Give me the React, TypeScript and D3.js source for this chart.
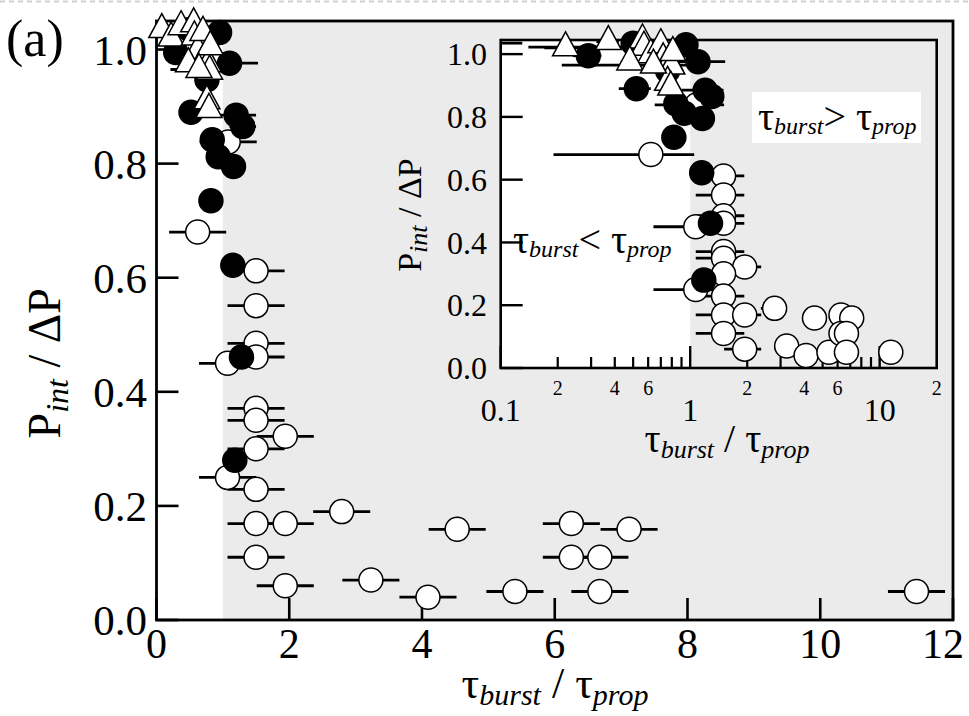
import React from 'react';
import * as d3 from 'd3';

// ---------- data ----------
// open circles
const openX = [0.62, 1.08, 1.5, 1.5, 1.5, 1.5, 1.07, 1.5, 1.5, 1.94, 1.5, 1.07, 1.5, 2.79, 1.5, 1.94, 4.53, 1.5, 3.23, 1.94, 4.09, 5.4, 6.25, 7.12, 6.25, 6.68, 6.68, 11.45];
const openY = [0.68, 0.838, 0.612, 0.551, 0.485, 0.461, 0.45, 0.371, 0.35, 0.322, 0.3, 0.25, 0.229, 0.19, 0.169, 0.169, 0.159, 0.11, 0.07, 0.06, 0.04, 0.05, 0.169, 0.159, 0.11, 0.11, 0.05, 0.05];
const openErr = [0.43, 0.43, 0.43, 0.43, 0.43, 0.43, 0.43, 0.43, 0.43, 0.43, 0.43, 0.43, 0.43, 0.43, 0.43, 0.43, 0.43, 0.43, 0.43, 0.43, 0.43, 0.43, 0.43, 0.43, 0.43, 0.43, 0.43, 0.43];

// filled circles
const filledX = [0.29, 0.5, 0.95, 1.1, 0.76, 0.52, 1.2, 1.3, 0.93, 1.16, 0.84, 0.82, 1.15, 1.28, 1.18];
const filledY = [0.995, 1.035, 1.03, 0.976, 0.947, 0.89, 0.885, 0.865, 0.812, 0.795, 0.842, 0.735, 0.622, 0.461, 0.28];
const filledErr = [0.05, 0.05, 0.1, 0.43, 0.1, 0.1, 0.3, 0.2, 0.1, 0.1, 0.1, 0.1, 0.1, 0.1, 0.1];

// open triangles
const triX = [0.08, 0.22, 0.37, 0.56, 0.57, 0.62, 0.7, 0.72, 0.78, 0.8, 0.81, 0.76, 0.79, 0.48, 0.64];
const triY = [1.035, 1.02, 1.04, 1.045, 1.022, 0.998, 1.03, 0.985, 0.975, 0.962, 1.005, 0.91, 0.895, 0.975, 0.965];
const triErr = [0.05, 0.05, 0.05, 0.05, 0.43, 0.05, 0.05, 0.05, 0.05, 0.05, 0.05, 0.05, 0.05, 0.05, 0.43];

// ticks
const mainXTicks = [0, 2, 4, 6, 8, 10, 12];
const mainYTicks = [0, 0.2, 0.4, 0.6, 0.8, 1.0];
const insetYTicks = [0, 0.2, 0.4, 0.6, 0.8, 1.0];
const insetMajor = [0.1, 1, 10];
const insetMinorLabels = [0.2, 0.4, 0.6, 2, 4, 6, 20];

const FONT = '"Liberation Serif", "Times New Roman", Times, serif';
const GRAY = '#ebebeb';

type Pt = { x: number; y: number; e: number };
const zip = (xs: number[], ys: number[], es: number[]): Pt[] => xs.map((x, i) => ({ x, y: ys[i], e: es[i] }));
const opens = zip(openX, openY, openErr);
const filleds = zip(filledX, filledY, filledErr);
const tris = zip(triX, triY, triErr);

function triPath(cx: number, cy: number, s = 26, h = 24) {
  return `M${cx},${cy - (h * 2) / 3}L${cx + s / 2},${cy + h / 3}L${cx - s / 2},${cy + h / 3}Z`;
}

function Markers({ sx, sy, xmin, xmax, r }: { sx: (v: number) => number; sy: (v: number) => number; xmin: number; xmax: number; r: number }) {
  const all = [...opens, ...filleds, ...tris];
  const bar = (p: Pt, i: number) => {
    let lo = p.x - p.e;
    let hi = p.x + p.e;
    if (lo < xmin) lo = xmin;
    if (hi > xmax) hi = xmax;
    if (hi <= lo) return null;
    return <line key={'b' + i} x1={sx(lo)} x2={sx(hi)} y1={sy(p.y)} y2={sy(p.y)} stroke="#000" strokeWidth={2.8} />;
  };
  const vis = (p: Pt) => p.x >= xmin;
  return (
    <g>
      {all.map(bar)}
      {opens.filter(vis).map((p, i) => (
        <circle key={'o' + i} cx={sx(p.x)} cy={sy(p.y)} r={r} fill="#fff" stroke="#000" strokeWidth={1.5} />
      ))}
      {filleds.filter(vis).map((p, i) => (
        <circle key={'f' + i} cx={sx(p.x)} cy={sy(p.y)} r={r} fill="#000" stroke="#000" strokeWidth={1.5} />
      ))}
      {tris.filter(vis).map((p, i) => (
        <path key={'t' + i} d={triPath(sx(p.x), sy(p.y))} fill="#fff" stroke="#000" strokeWidth={1.5} />
      ))}
    </g>
  );
}

function TauLabel({ x, y, a, b, op, big, small, dy, anchor = 'start' }: { x: number; y: number; a: string; b: string; op: string; big: number; small: number; dy: number; anchor?: string }) {
  return (
    <text x={x} y={y} fontFamily={FONT} fontSize={big} textAnchor={anchor as any}>
      <tspan>τ</tspan>
      <tspan fontStyle="italic" fontSize={small} dy={dy}>{a}</tspan>
      <tspan dy={-dy}>{op}τ</tspan>
      <tspan fontStyle="italic" fontSize={small} dy={dy}>{b}</tspan>
    </text>
  );
}

export default function App() {
  // main chart scales
  const mx = d3.scaleLinear().domain([0, 12]).range([156.5, 953]);
  const my = d3.scaleLinear().domain([0, 1.05]).range([620, 21]);
  // inset scales
  const ix = d3.scaleLog().domain([0.1, 20]).range([500.7, 936.7]);
  const iy = d3.scaleLinear().domain([0, 1.045]).range([368, 40]);

  const minorTicks: number[] = [];
  [0.1, 1, 10].forEach((dec) => {
    for (let k = 2; k <= 9; k++) {
      const v = dec * k;
      if (v < 20) minorTicks.push(v);
    }
  });

  const fmtMain = d3.format('.1f');

  return (
    <svg width={969} height={716} style={{ position: 'absolute', left: 0, top: 0, background: '#fff' }}>
      <line x1={0} x2={969} y1={1.5} y2={1.5} stroke="#cfcfcf" strokeWidth={2} strokeDasharray="5,4" />

      {/* ---- main chart ---- */}
      <rect x={mx(1)} y={my(1.05)} width={mx(12) - mx(1)} height={my(0) - my(1.05)} fill={GRAY} />
      {mainYTicks.map((t) => (
        <g key={'my' + t}>
          <line x1={mx(0)} x2={mx(0) + 22} y1={my(t)} y2={my(t)} stroke="#000" strokeWidth={2.6} />
          <text x={147} y={my(t)} dy="0.35em" textAnchor="end" fontFamily={FONT} fontSize={43}>{fmtMain(t)}</text>
        </g>
      ))}
      {mainXTicks.map((t) => (
        <g key={'mx' + t}>
          <line x1={mx(t)} x2={mx(t)} y1={my(0)} y2={my(0) - 22} stroke="#000" strokeWidth={2.6} />
          <text x={t === 12 ? mx(t) - 10 : mx(t)} y={658} textAnchor="middle" fontFamily={FONT} fontSize={42}>{t}</text>
        </g>
      ))}
      <rect x={mx(0)} y={my(1.05)} width={mx(12) - mx(0)} height={my(0) - my(1.05)} fill="none" stroke="#000" strokeWidth={2.8} />

      {/* ---- inset ---- */}
      <rect x={ix(0.1)} y={iy(1.045)} width={ix(20) - ix(0.1)} height={iy(0) - iy(1.045)} fill="#fff" />
      <rect x={ix(1)} y={iy(1.045)} width={ix(20) - ix(1)} height={iy(0) - iy(1.045)} fill={GRAY} />
      {insetYTicks.map((t) => (
        <g key={'iy' + t}>
          <line x1={ix(0.1)} x2={ix(0.1) + 22} y1={iy(t)} y2={iy(t)} stroke="#000" strokeWidth={2.4} />
          <text x={487} y={iy(t)} dy="0.35em" textAnchor="end" fontFamily={FONT} fontSize={32}>{fmtMain(t)}</text>
        </g>
      ))}
      {insetMajor.map((t) => (
        <g key={'ij' + t}>
          <line x1={ix(t)} x2={ix(t)} y1={iy(0)} y2={iy(0) - 22} stroke="#000" strokeWidth={2.4} />
          <text x={ix(t)} y={421} textAnchor="middle" fontFamily={FONT} fontSize={32}>{t === 0.1 ? '0.1' : String(t)}</text>
        </g>
      ))}
      {minorTicks.map((t) => (
        <line key={'in' + t} x1={ix(t)} x2={ix(t)} y1={iy(0)} y2={iy(0) - 11} stroke="#000" strokeWidth={2.2} />
      ))}
      {insetMinorLabels.map((t) => (
        <text key={'il' + t} x={ix(t)} y={395} textAnchor="middle" fontFamily={FONT} fontSize={20}>{String(Math.round(t / Math.pow(10, Math.floor(Math.log10(t) + 1e-9))))}</text>
      ))}
      <rect x={ix(0.1)} y={iy(1.045)} width={ix(20) - ix(0.1)} height={iy(0) - iy(1.045)} fill="none" stroke="#000" strokeWidth={2.6} />

      {/* inset annotations */}
      <TauLabel x={513} y={253} a="burst" b="prop" op="< " big={40} small={24} dy={4} />
      <rect x={752} y={92} width={169} height={51} fill="#fff" />
      <TauLabel x={758} y={130} a="burst" b="prop" op="> " big={40} small={24} dy={4} />

      <Markers sx={(v) => ix(v)} sy={(v) => iy(v)} xmin={0.1} xmax={20} r={12} />

      {/* inset axis titles */}
      <TauLabel x={727} y={452} a="burst" b="prop" op=" / " big={40} small={26} dy={6} anchor="middle" />
      <text transform={`translate(421,${(iy(0) + iy(1)) / 2 + 4}) rotate(-90)`} textAnchor="middle" fontFamily={FONT} fontSize={34}>
        <tspan>P</tspan>
        <tspan fontStyle="italic" fontSize={26} dy={6}>int</tspan>
        <tspan dy={-6}> / ΔP</tspan>
      </text>

      {/* main markers */}
      <Markers sx={(v) => mx(v)} sy={(v) => my(v)} xmin={0} xmax={12} r={12} />

      {/* main axis titles */}
      <TauLabel x={555} y={698} a="burst" b="prop" op=" / " big={44} small={30} dy={7} anchor="middle" />
      <text transform={`translate(60,${my(0.45)}) rotate(-90)`} textAnchor="middle" fontFamily={FONT} fontSize={46}>
        <tspan>P</tspan>
        <tspan fontStyle="italic" fontSize={32} dy={8}>int</tspan>
        <tspan dy={-8}> / ΔP</tspan>
      </text>
      <text x={6} y={56} fontFamily={FONT} fontSize={52}>(a)</text>
    </svg>
  );
}
